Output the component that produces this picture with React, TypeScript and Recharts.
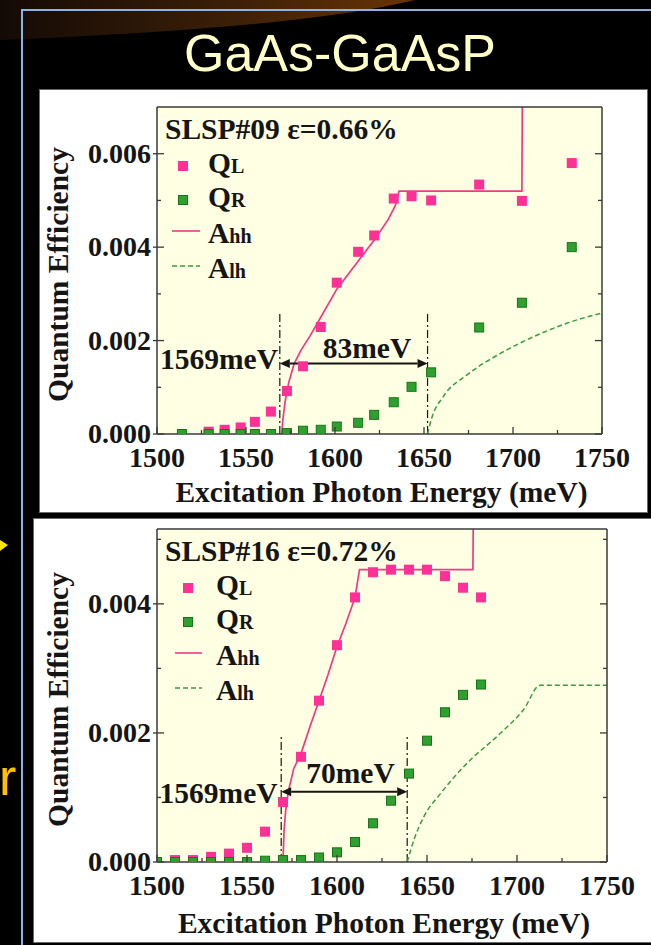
import {
  ComposedChart,
  Scatter,
  Line,
  XAxis,
  YAxis,
  CartesianGrid,
  ReferenceLine,
  ReferenceDot,
  Legend,
} from 'recharts';

type Pt = [number, number];

// SLSP#09, strain 0.66%  [energy meV, quantum efficiency]
const qL09: Pt[] = [
  [1529, 0.00005], [1538, 0.00009], [1547, 0.00014], [1555, 0.00026], [1564, 0.00048],
  [1573, 0.00092], [1582, 0.00145], [1592, 0.00229], [1601, 0.00324], [1613, 0.0039],
  [1622, 0.00425], [1633, 0.00504], [1643, 0.00509], [1654, 0.005], [1681, 0.00534],
  [1705, 0.00499], [1733, 0.0058],
];
const qR09: Pt[] = [
  [1514, 0], [1529, 0], [1538, 0], [1547, 0], [1555, 0], [1564, 0], [1573, 0.00002],
  [1582, 0.00007], [1592, 0.00009], [1601, 0.00016], [1613, 0.00024], [1622, 0.00041],
  [1633, 0.00068], [1643, 0.00101], [1654, 0.00132], [1681, 0.00228], [1705, 0.00281],
  [1733, 0.004],
];
const aHH09: Pt[] = [
  [1570, 0], [1570.7, 0.0003], [1572, 0.0007], [1574, 0.0011], [1577, 0.0015], [1581, 0.0018],
  [1586, 0.0021], [1592, 0.0025], [1601, 0.0031], [1612, 0.00365], [1623, 0.0042],
  [1630, 0.0046], [1634, 0.0049], [1636, 0.0052], [1705, 0.0052], [1705.3, 0.0075],
];
const aLH09: Pt[] = [
  [1652, 0], [1654, 0.0003], [1660.8, 0.0008], [1674, 0.00126], [1692.7, 0.00172],
  [1711.4, 0.00208], [1730.2, 0.00237], [1750, 0.00259],
];

// SLSP#16, strain 0.72%
const qL16: Pt[] = [
  [1510, 0.00003], [1520, 0.00003], [1530, 0.00008], [1540, 0.00013], [1550, 0.00022],
  [1560, 0.00047], [1570, 0.00093], [1580, 0.00163], [1590, 0.0025], [1600, 0.00336],
  [1610, 0.0041], [1620, 0.00449], [1630, 0.00453], [1640, 0.00453], [1650, 0.00453],
  [1660, 0.00443], [1670, 0.00425], [1680, 0.0041],
];
const qR16: Pt[] = [
  [1500, 0], [1510, 0], [1520, 0], [1530, 0], [1540, 0], [1550, 0], [1560, 0.00002],
  [1570, 0.00003], [1580, 0.00003], [1590, 0.00007], [1600, 0.00015], [1610, 0.00031],
  [1620, 0.0006], [1630, 0.00095], [1640, 0.00137], [1650, 0.00188], [1660, 0.00232],
  [1670, 0.00259], [1680, 0.00275],
];
const aHH16: Pt[] = [
  [1570, 0], [1570.6, 0.0005], [1571.5, 0.0008], [1573, 0.0011], [1576, 0.00145],
  [1580, 0.00168], [1585, 0.0021], [1590, 0.0025], [1595, 0.0029], [1600, 0.00334],
  [1605, 0.0037], [1610, 0.0041], [1612.5, 0.00453], [1675.5, 0.00453], [1675.8, 0.0056],
];
const aLH16: Pt[] = [
  [1639, 0], [1642.7, 0.00034], [1648.2, 0.0007], [1657.5, 0.00106], [1672.2, 0.00153],
  [1690.6, 0.00199], [1703.6, 0.00236], [1712.9, 0.00274], [1750, 0.00274],
];

const energyTicks = [1500, 1525, 1550, 1575, 1600, 1625, 1650, 1675, 1700, 1725, 1750];
const qeTicks09 = [0, 0.001, 0.002, 0.003, 0.004, 0.005, 0.006];
const qeTicks16 = [0, 0.001, 0.002, 0.003, 0.004, 0.005];
const legendNames: [string, string][] = [['Q', 'L'], ['Q', 'R'], ['A', 'hh'], ['A', 'lh']];

const SERIF = '"Liberation Serif", "Times New Roman", Times, serif';
const INK = '#151515';
const AXIS = '#3a3a3a';
const PINK = '#ff3096';
const PINK_LINE = '#f03a85';
const GREEN = '#2f9f2f';
const GREEN_EDGE = '#177517';
const GREEN_LINE = '#3a9c44';
const PLOT_BG = '#ffffe3';
const Y_W = 110;
const FS = 29.5;
const TICK_FS = 28;

const rows = (pts: Pt[]) => pts.map(([e, v]) => ({ e, v }));

const txt = { fontFamily: SERIF, fontWeight: 700, fill: INK } as const;

const PinkSquare = (p: any) => (
  <rect x={p.cx - 5} y={p.cy - 5} width={10} height={10} fill={PINK} />
);
const GreenSquare = (p: any) => (
  <rect x={p.cx - 4.5} y={p.cy - 4.5} width={9} height={9} fill={GREEN} stroke={GREEN_EDGE} strokeWidth={1} />
);

const XTick = (p: any) => {
  const { x, y, payload, side } = p;
  const v = payload.value;
  const major = v % 50 === 0;
  const dir = side === 'top' ? 1 : -1;
  return (
    <g>
      <line x1={x} x2={x} y1={y} y2={y + dir * (major ? 7 : 4)} stroke={AXIS} strokeWidth={1.3} />
      {side === 'bottom' && major && (
        <text x={x} y={y + 33} textAnchor="middle" fontSize={TICK_FS} style={txt}>
          {v}
        </text>
      )}
    </g>
  );
};

const YTick = (p: any) => {
  const { x, y, payload, side } = p;
  const v = payload.value;
  const major = Math.round(v * 1000) % 2 === 0;
  if (side === 'right') {
    return <line x1={x} x2={x - (major ? 7 : 4)} y1={y} y2={y} stroke={AXIS} strokeWidth={1.3} />;
  }
  return (
    <g>
      <line x1={major ? x - 4 : x} x2={x + (major ? 7 : 4)} y1={y} y2={y} stroke={AXIS} strokeWidth={1.3} />
      {major && (
        <text x={x - 6} y={y + 9} textAnchor="end" fontSize={TICK_FS} style={txt}>
          {v.toFixed(3)}
        </text>
      )}
    </g>
  );
};

const ArrowShape = (p: any) => {
  const { x1, y1, x2, y2 } = p;
  const h = 10;
  const w = 4.5;
  return (
    <g>
      <line x1={x1 + h} y1={y1} x2={x2 - h} y2={y2} stroke={INK} strokeWidth={2} />
      <polygon points={`${x1},${y1} ${x1 + h},${y1 - w} ${x1 + h},${y1 + w}`} fill={INK} />
      <polygon points={`${x2},${y2} ${x2 - h},${y2 - w} ${x2 - h},${y2 + w}`} fill={INK} />
    </g>
  );
};

interface PanelCfg {
  width: number;
  height: number;
  margin: { top: number; right: number; bottom: number; left: number };
  yMax: number;
  yTicks: number[];
  qL: Pt[];
  qR: Pt[];
  aHH: Pt[];
  aLH: Pt[];
  title: string;
  edges: [number, number];
  vTop: number;
  arrowY: number;
  gapText: string;
  gapPos: Pt;
  edgePos: Pt;
  lg: { square: number; text: number; l0: number; l1: number };
  xTitleDy: number;
}

const QEChart = ({ cfg }: { cfg: PanelCfg }) => {
  const plotLeft = cfg.margin.left + Y_W;
  const plotTop = cfg.margin.top + 1;
  const bases = [66, 100, 136, 171];

  const legend = () => (
    <svg width={320} height={190} style={{ overflow: 'visible', display: 'block' }}>
      <text x={8} y={32} fontSize={FS} style={txt}>{cfg.title}</text>
      {legendNames.map(([main, sub], i) => {
        const b = bases[i];
        return (
          <g key={main + sub}>
            {i === 0 && <rect x={cfg.lg.square - 5} y={b - 12} width={10} height={10} fill={PINK} />}
            {i === 1 && (
              <rect x={cfg.lg.square - 4.5} y={b - 11.5} width={9} height={9} fill={GREEN} stroke={GREEN_EDGE} />
            )}
            {i === 2 && <line x1={cfg.lg.l0} x2={cfg.lg.l1} y1={b - 12} y2={b - 12} stroke={PINK_LINE} strokeWidth={1.6} />}
            {i === 3 && (
              <line x1={cfg.lg.l0} x2={cfg.lg.l1} y1={b - 12} y2={b - 12} stroke={GREEN_LINE} strokeWidth={1.4} strokeDasharray="5 3" />
            )}
            <text x={cfg.lg.text} y={b} fontSize={FS} style={txt}>
              {main}
              <tspan fontSize={20}>{sub}</tspan>
            </text>
          </g>
        );
      })}
    </svg>
  );

  return (
    <ComposedChart width={cfg.width} height={cfg.height} margin={cfg.margin}>
      <CartesianGrid horizontal={false} vertical={false} fill={PLOT_BG} fillOpacity={1} />
      <XAxis
        dataKey="e"
        type="number"
        domain={[1500, 1750]}
        allowDataOverflow
        ticks={energyTicks}
        interval={0}
        height={70}
        tickSize={0}
        tickMargin={0}
        tickLine={false}
        tick={<XTick side="bottom" />}
        axisLine={{ stroke: AXIS, strokeWidth: 1.5 }}
        label={(lp: any) => {
          const vb = lp.viewBox;
          return (
            <text x={vb.x + vb.width / 2 + 2} y={vb.y + cfg.xTitleDy} textAnchor="middle" fontSize={FS} style={txt}>
              Excitation Photon Energy (meV)
            </text>
          );
        }}
      />
      <XAxis
        xAxisId="top"
        orientation="top"
        type="number"
        domain={[1500, 1750]}
        allowDataOverflow
        ticks={energyTicks}
        interval={0}
        height={1}
        tickSize={0}
        tickMargin={0}
        tickLine={false}
        tick={<XTick side="top" />}
        axisLine={{ stroke: AXIS, strokeWidth: 1.5 }}
      />
      <YAxis
        dataKey="v"
        type="number"
        domain={[0, cfg.yMax]}
        allowDataOverflow
        ticks={cfg.yTicks}
        interval={0}
        width={Y_W}
        tickSize={0}
        tickMargin={0}
        tickLine={false}
        tick={<YTick side="left" />}
        axisLine={{ stroke: AXIS, strokeWidth: 1.5 }}
        label={(lp: any) => {
          const vb = lp.viewBox;
          const cx = vb.x + vb.width - 89;
          const cy = vb.y + vb.height / 2 + 4;
          return (
            <text x={cx} y={cy} transform={`rotate(-90 ${cx} ${cy})`} textAnchor="middle" fontSize={FS} style={txt}>
              Quantum Efficiency
            </text>
          );
        }}
      />
      <YAxis
        yAxisId="right"
        orientation="right"
        type="number"
        domain={[0, cfg.yMax]}
        allowDataOverflow
        ticks={cfg.yTicks}
        interval={0}
        width={1}
        tickSize={0}
        tickMargin={0}
        tickLine={false}
        tick={<YTick side="right" />}
        axisLine={{ stroke: AXIS, strokeWidth: 1.5 }}
      />
      <Legend
        layout="vertical"
        align="center"
        verticalAlign="middle"
        content={legend}
        wrapperStyle={{ left: plotLeft, top: plotTop, width: 320, height: 190 }}
      />
      {cfg.edges.map((e) => (
        <ReferenceLine
          key={e}
          segment={[{ x: e, y: 0 }, { x: e, y: cfg.vTop }]}
          stroke={INK}
          strokeWidth={1.2}
          strokeDasharray="8 3 2 3"
        />
      ))}
      <Scatter data={rows(cfg.qL)} dataKey="v" shape={PinkSquare} isAnimationActive={false} />
      <Scatter data={rows(cfg.qR)} dataKey="v" shape={GreenSquare} isAnimationActive={false} />
      <Line
        data={rows(cfg.aHH)}
        dataKey="v"
        type="linear"
        stroke={PINK_LINE}
        strokeWidth={1.7}
        dot={false}
        activeDot={false}
        isAnimationActive={false}
      />
      <Line
        data={rows(cfg.aLH)}
        dataKey="v"
        type="monotone"
        stroke={GREEN_LINE}
        strokeWidth={1.5}
        strokeDasharray="5 3"
        dot={false}
        activeDot={false}
        isAnimationActive={false}
      />
      <ReferenceLine
        segment={[{ x: cfg.edges[0], y: cfg.arrowY }, { x: cfg.edges[1], y: cfg.arrowY }]}
        shape={ArrowShape}
      />
      <ReferenceDot
        x={cfg.gapPos[0]}
        y={cfg.gapPos[1]}
        r={0}
        shape={(p: any) => (
          <text x={p.cx} y={p.cy} textAnchor="middle" fontSize={FS} style={txt}>{cfg.gapText}</text>
        )}
      />
      <ReferenceDot
        x={cfg.edgePos[0]}
        y={cfg.edgePos[1]}
        r={0}
        shape={(p: any) => (
          <text x={p.cx} y={p.cy} textAnchor="end" fontSize={FS} style={txt}>1569meV</text>
        )}
      />
    </ComposedChart>
  );
};

const top09: PanelCfg = {
  width: 607,
  height: 422,
  margin: { top: 16, right: 44, bottom: 8, left: 7 },
  yMax: 0.007,
  yTicks: qeTicks09,
  qL: qL09,
  qR: qR09,
  aHH: aHH09,
  aLH: aLH09,
  title: 'SLSP#09 \u03b5=0.66%',
  edges: [1569, 1652],
  vTop: 0.00261,
  arrowY: 0.00151,
  gapText: '83meV',
  gapPos: [1618, 0.00162],
  edgePos: [1568, 0.0014],
  lg: { square: 26, text: 51, l0: 15, l1: 43 },
  xTitleDy: 68,
};

const bottom16: PanelCfg = {
  width: 616,
  height: 423,
  margin: { top: 9, right: 42, bottom: 10, left: 13 },
  yMax: 0.00516,
  yTicks: qeTicks16,
  qL: qL16,
  qR: qR16,
  aHH: aHH16,
  aLH: aLH16,
  title: 'SLSP#16 \u03b5=0.72%',
  edges: [1569, 1639],
  vTop: 0.00195,
  arrowY: 0.00109,
  gapText: '70meV',
  gapPos: [1607.5, 0.00122],
  edgePos: [1567, 0.00091],
  lg: { square: 31, text: 59, l0: 18, l1: 45 },
  xTitleDy: 71,
};

const panel = (left: number, top: number, w: number, h: number) =>
  ({
    position: 'absolute',
    left,
    top,
    width: w,
    height: h,
    boxSizing: 'border-box',
    background: '#ffffff',
    border: '1px solid #6a6a6a',
  }) as const;

export default function App() {
  return (
    <div
      style={{
        position: 'fixed',
        left: 0,
        top: 0,
        width: 651,
        height: 945,
        background: '#000',
        overflow: 'hidden',
      }}
    >
      <svg width={651} height={945} style={{ position: 'absolute', left: 0, top: 0 }}>
        <defs>
          <linearGradient id="swoosh" x1="0" y1="0" x2="1" y2="0">
            <stop offset="0%" stopColor="#140a05" />
            <stop offset="55%" stopColor="#3b1f08" />
            <stop offset="100%" stopColor="#6a3404" />
          </linearGradient>
        </defs>
        <path d="M0,0 L415,0 Q300,28 0,40 Z" fill="url(#swoosh)" />
        <rect x={22} y={10} width={700} height={1000} fill="none" stroke="#8ab4e6" strokeWidth={2} />
        <text
          x={340}
          y={71}
          textAnchor="middle"
          fontSize={52}
          fill="#ffffc8"
          style={{ fontFamily: '"Liberation Sans", Arial, sans-serif' }}
        >
          GaAs-GaAsP
        </text>
        <polygon points="0,540 8,545 0,551" fill="#ffe600" />
        <text x={-1} y={795} fontSize={52} fill="#ffc000" style={{ fontFamily: '"Liberation Sans", Arial, sans-serif' }}>
          r
        </text>
      </svg>
      <div style={panel(39, 89, 609, 424)}>
        <QEChart cfg={top09} />
      </div>
      <div style={panel(33, 518, 620, 425)}>
        <QEChart cfg={bottom16} />
      </div>
    </div>
  );
}
